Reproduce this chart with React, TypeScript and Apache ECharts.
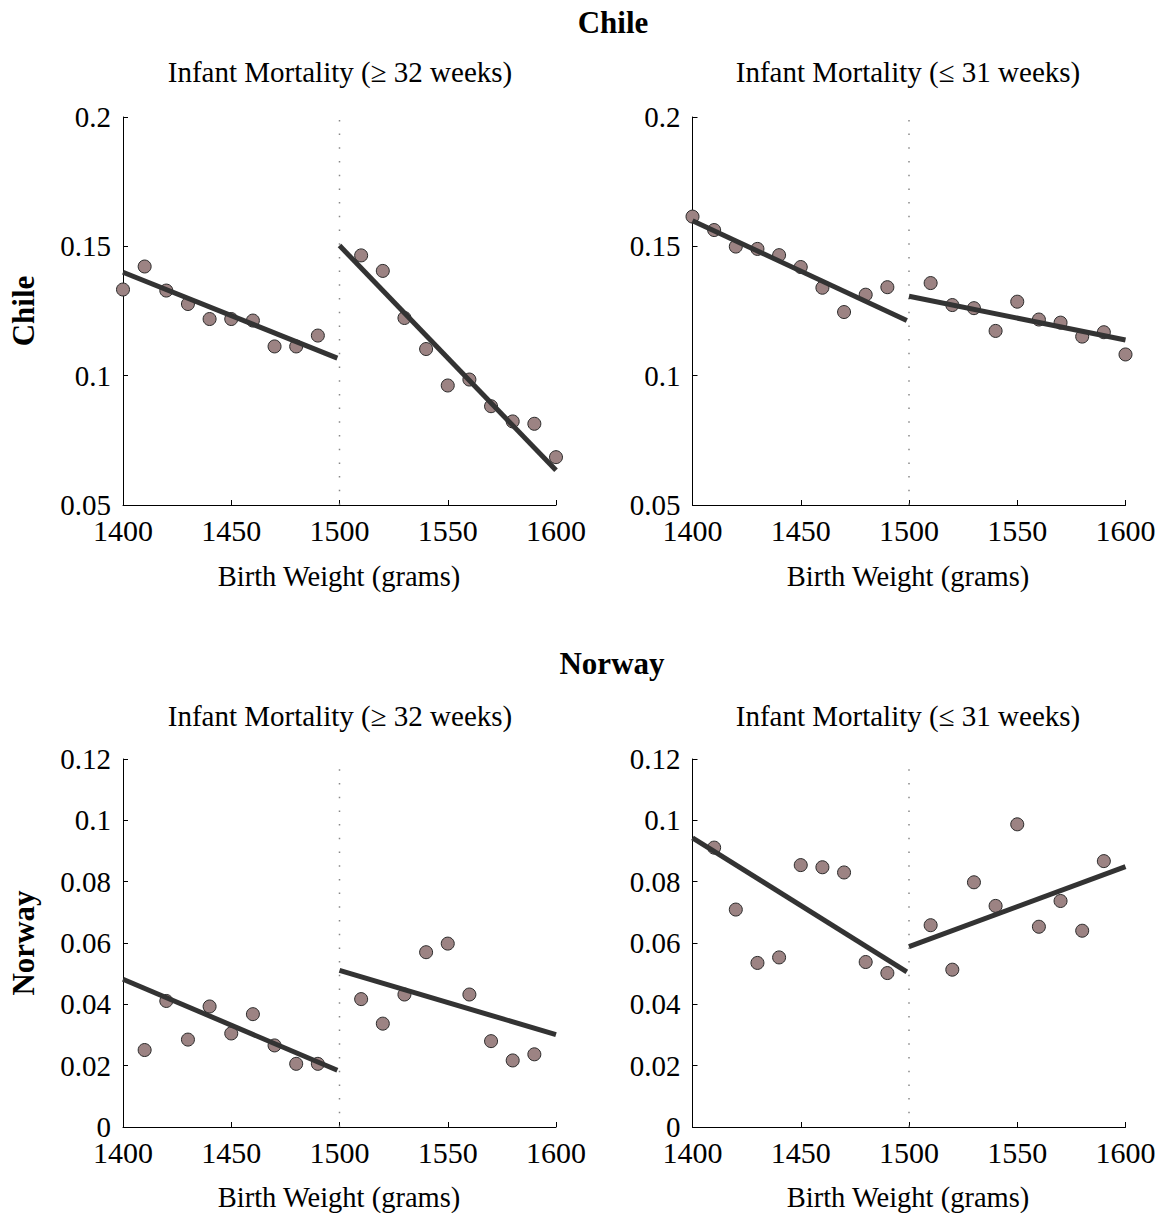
import React, { useEffect, useRef } from "react";
import * as echarts from "echarts";

// ---- data ----
const chileX = [1400, 1410, 1420, 1430, 1440, 1450, 1460, 1470, 1480, 1490, 1510, 1520, 1530, 1540, 1550, 1560, 1570, 1580, 1590, 1600];
const chileGe32 = [0.1333, 0.1422, 0.1329, 0.1277, 0.1219, 0.1219, 0.1213, 0.1113, 0.1113, 0.1155, 0.1465, 0.1405, 0.1223, 0.1103, 0.0962, 0.0985, 0.0882, 0.0823, 0.0814, 0.0685];
const chileLe31 = [0.1615, 0.1563, 0.1499, 0.149, 0.1466, 0.142, 0.134, 0.1246, 0.1313, 0.1342, 0.1358, 0.1273, 0.1261, 0.1173, 0.1286, 0.1217, 0.1205, 0.1151, 0.1168, 0.1082];
const norwayX = [1410, 1420, 1430, 1440, 1450, 1460, 1470, 1480, 1490, 1510, 1520, 1530, 1540, 1550, 1560, 1570, 1580, 1590];
const norwayGe32 = [0.0251, 0.0411, 0.0285, 0.0393, 0.0305, 0.0368, 0.0266, 0.0206, 0.0206, 0.0417, 0.0337, 0.0432, 0.057, 0.0598, 0.0432, 0.028, 0.0217, 0.0237];
const norwayLe31 = [0.0911, 0.0709, 0.0535, 0.0553, 0.0854, 0.0847, 0.083, 0.0538, 0.0502, 0.0658, 0.0513, 0.0798, 0.0721, 0.0987, 0.0653, 0.0737, 0.064, 0.0867];

// fitted lines: [x0, y0, x1, y1]
const fitChileGe32Left = [1400, 0.14, 1499, 0.1068];
const fitChileGe32Right = [1500, 0.1503, 1600, 0.0634];
const fitChileLe31Left = [1400, 0.1599, 1499, 0.1213];
const fitChileLe31Right = [1500, 0.1307, 1600, 0.1138];
const fitNorwayGe32Left = [1400, 0.0482, 1499, 0.0185];
const fitNorwayGe32Right = [1500, 0.0511, 1600, 0.0301];
const fitNorwayLe31Left = [1400, 0.0943, 1499, 0.0506];
const fitNorwayLe31Right = [1500, 0.0588, 1600, 0.0849];

const cutoff = 1500;
const xMin = 1400;
const xMax = 1600;
const xStep = 50;
const chileY = { min: 0.05, max: 0.2, step: 0.05 };
const norwayY = { min: 0, max: 0.12, step: 0.02 };

const subtitleGe32 = "Infant Mortality (≥ 32 weeks)";
const subtitleLe31 = "Infant Mortality (≤ 31 weeks)";
const xName = "Birth Weight (grams)";
const countries = ["Chile", "Norway"];

const FONT = '"Liberation Serif", "Times New Roman", serif';

export default function App() {
  const ref = useRef<HTMLDivElement>(null);
  useEffect(() => {
    document.body.style.margin = "0";
    const chart = echarts.init(ref.current!, null, { renderer: "svg" });

    const grids = [
      { left: 123, top: 117, width: 433, height: 388 },
      { left: 692.5, top: 117, width: 433, height: 388 },
      { left: 123, top: 759, width: 433, height: 368 },
      { left: 692.5, top: 759, width: 433, height: 368 },
    ];
    const yRanges = [chileY, chileY, norwayY, norwayY];

    const axisCommon = {
      axisLine: { show: true, onZero: false, lineStyle: { color: "#000", width: 1 } },
      axisTick: { show: true, inside: true, length: 5, lineStyle: { color: "#000" } },
      splitLine: { show: false },
      axisLabel: { color: "#000", fontFamily: FONT, fontSize: 29, lineHeight: 22 },
    };

    const xAxis = grids.map((_, i) => ({
      type: "value",
      gridIndex: i,
      min: xMin,
      max: xMax,
      interval: xStep,
      ...axisCommon,
      axisLabel: { ...axisCommon.axisLabel, margin: 14, fontSize: 30, formatter: (v: number) => String(v) },
    }));
    const yAxis = grids.map((_, i) => ({
      type: "value",
      gridIndex: i,
      min: yRanges[i].min,
      max: yRanges[i].max,
      interval: yRanges[i].step,
      ...axisCommon,
      axisLabel: {
        ...axisCommon.axisLabel,
        margin: 12,
        formatter: (v: number) => String(parseFloat(v.toFixed(3))),
      },
    }));

    const panels = [
      { x: chileX, y: chileGe32, fits: [fitChileGe32Left, fitChileGe32Right], yr: chileY },
      { x: chileX, y: chileLe31, fits: [fitChileLe31Left, fitChileLe31Right], yr: chileY },
      { x: norwayX, y: norwayGe32, fits: [fitNorwayGe32Left, fitNorwayGe32Right], yr: norwayY },
      { x: norwayX, y: norwayLe31, fits: [fitNorwayLe31Left, fitNorwayLe31Right], yr: norwayY },
    ];

    const series: any[] = [];
    panels.forEach((p, i) => {
      series.push({
        type: "line",
        xAxisIndex: i,
        yAxisIndex: i,
        data: [
          [cutoff, p.yr.min],
          [cutoff, p.yr.max],
        ],
        symbol: "none",
        lineStyle: { color: "#888", width: 1.5, type: [1.5, 12.2] },
        z: 1,
        silent: true,
      });
      series.push({
        type: "scatter",
        xAxisIndex: i,
        yAxisIndex: i,
        data: p.x.map((xv, k) => [xv, p.y[k]]),
        symbol: "circle",
        symbolSize: 13,
        itemStyle: { color: "#9c8383", borderColor: "#2a2a2a", borderWidth: 1, opacity: 1 },
        z: 2,
      });
      p.fits.forEach((f) => {
        series.push({
          type: "line",
          xAxisIndex: i,
          yAxisIndex: i,
          data: [
            [f[0], f[1]],
            [f[2], f[3]],
          ],
          symbol: "none",
          lineStyle: { color: "#333", width: 5, cap: "butt" },
          z: 3,
        });
      });
    });

    const txt = (x: number, y: number, text: string, size: number, bold = false, rotation = 0) => ({
      type: "text",
      x,
      y,
      rotation,
      style: {
        text,
        fontFamily: FONT,
        fontSize: size,
        fontWeight: bold ? "bold" : "normal",
        fill: "#000",
        align: "center",
        verticalAlign: "middle",
      },
    });

    const graphic = [
      txt(613, 22, countries[0], 31, true),
      txt(612, 663, countries[1], 31, true),
      txt(340, 72, subtitleGe32, 29),
      txt(908, 72, subtitleLe31, 29),
      txt(340, 716, subtitleGe32, 29),
      txt(908, 716, subtitleLe31, 29),
      txt(339, 576, xName, 28.5),
      txt(908, 576, xName, 28.5),
      txt(339, 1197, xName, 28.5),
      txt(908, 1197, xName, 28.5),
      txt(23, 311, countries[0], 31, true, Math.PI / 2),
      txt(23, 943, countries[1], 31, true, Math.PI / 2),
    ];

    chart.setOption({
      animation: false,
      backgroundColor: "#fff",
      grid: grids.map((g) => ({ ...g, containLabel: false })),
      xAxis,
      yAxis,
      series,
      graphic,
    });
    return () => chart.dispose();
  }, []);
  return <div ref={ref} style={{ width: 1166, height: 1213 }} />;
}
